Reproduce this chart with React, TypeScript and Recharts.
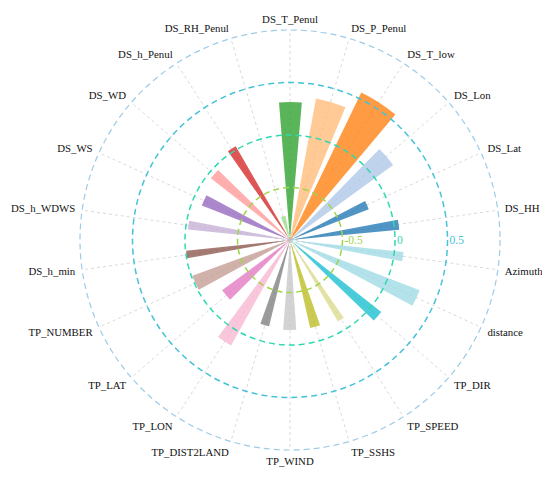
import React from 'react';
import {
  RadialBarChart,
  RadialBar,
  PolarAngleAxis,
  PolarRadiusAxis,
  PolarGrid,
  Sector,
  Cell,
} from 'recharts';

// categories listed counter-clockwise, starting just above 3 o'clock
const categories = [
  'DS_HH', 'DS_Lat', 'DS_Lon', 'DS_T_low', 'DS_P_Penul', 'DS_T_Penul',
  'DS_RH_Penul', 'DS_h_Penul', 'DS_WD', 'DS_WS', 'DS_h_WDWS', 'DS_h_min',
  'TP_NUMBER', 'TP_LAT', 'TP_LON', 'TP_DIST2LAND', 'TP_WIND', 'TP_SSHS',
  'TP_SPEED', 'TP_DIR', 'distance', 'Azimuth',
];

const values = [
  0.045, -0.195, 0.214, 0.56, 0.37, 0.314,
  -0.766, 0.031, -0.044, -0.098, -0.023, -0.005,
  -0.01, -0.195, 0.15, -0.155, -0.143, -0.139,
  -0.1, 0.107, 0.324, 0.087,
];

// second quantity encoded by the angular width of each wedge (share of its category)
const weights = [
  0.32, 0.37, 0.58, 0.87, 0.75, 0.58,
  0.7, 0.3, 0.39, 0.42, 0.3, 0.26,
  0.52, 0.51, 0.45, 0.36, 0.51, 0.4,
  0.26, 0.34, 0.43, 0.29,
];

const colors = [
  '#1f77b4', '#1f77b4', '#aec7e8', '#ff7f0e', '#ffbb78', '#2ca02c',
  '#98df8a', '#d62728', '#ff9896', '#9467bd', '#c5b0d5', '#8c564b',
  '#c49c94', '#e377c2', '#f7b6d2', '#7f7f7f', '#c7c7c7', '#bcbd22',
  '#dbdb8d', '#17becf', '#9edae5', '#9edae5',
];

const radiusTicks = [-1, -0.5, 0, 0.5, 1];
const radiusTickColors: Record<string, string> = {
  '-0.5': '#9fd54a',
  '0': '#2fd8b0',
  '0.5': '#45c2d8',
  '1': '#9ccbe8',
};

const data = categories.map((name, i) => ({ name, value: values[i], weight: weights[i] }));

const BAND = 360 / categories.length;
const gridAngles = categories.map((_, i) => (i + 0.5) * BAND);

const CX = 282;
const CY = 232;
const OUTER = 210;
const LABEL_R = 217;
const FONT = '"Liberation Serif", "Times New Roman", serif';

const BarShape = (props: any) => {
  const { cx, cy, startAngle, endAngle, outerRadius, payload, fill } = props;
  const mid = (startAngle + endAngle) / 2;
  const half = (payload.weight * BAND) / 2;
  return (
    <Sector
      cx={cx}
      cy={cy}
      innerRadius={0}
      outerRadius={outerRadius}
      startAngle={mid - half}
      endAngle={mid + half}
      fill={fill}
      fillOpacity={0.78}
      stroke="none"
    />
  );
};

const AngleTick = (props: any) => {
  const { payload } = props;
  const deg = payload.coordinate + BAND / 2;
  const a = (deg * Math.PI) / 180;
  const c = Math.cos(a);
  const s = Math.sin(a);
  const x = CX + LABEL_R * c;
  const y = CY - LABEL_R * s;
  const fs = 10.8;
  const anchor = c > 0.05 ? 'start' : c < -0.05 ? 'end' : 'middle';
  const baseline = y + 0.36 * fs * (1 - s);
  return (
    <text x={x} y={baseline} textAnchor={anchor} fontSize={fs} fontFamily={FONT} fill="#111">
      {payload.value}
    </text>
  );
};

const RadiusTick = (props: any) => {
  const { x, payload } = props;
  const v = payload.value;
  const r = x - CX;
  if (v === -1 || r <= 0.5) return <g />;
  const color = radiusTickColors[String(v)];
  const isOuter = v === 1;
  return (
    <g>
      <circle
        cx={CX}
        cy={CY}
        r={r}
        fill="none"
        stroke={color}
        strokeWidth={isOuter ? 1.2 : 1.5}
        strokeDasharray="6 4"
      />
      {!isOuter && (
        <text
          x={CX + r + 2}
          y={CY + 4}
          textAnchor="start"
          fontSize={11.5}
          fontFamily={FONT}
          fill={color}
        >
          {String(v)}
        </text>
      )}
    </g>
  );
};

export default function App() {
  return (
    <div style={{ width: 534, height: 464, background: '#fff' }}>
      <style>{'.recharts-surface{overflow:visible}'}</style>
      <RadialBarChart
        width={534}
        height={464}
        cx={CX}
        cy={CY}
        innerRadius={0}
        outerRadius={OUTER}
        startAngle={BAND}
        endAngle={360 + BAND}
        layout="centric"
        data={data}
        barCategoryGap="0%"
        margin={{ top: 0, right: 0, bottom: 0, left: 0 }}
      >
        <PolarGrid
          gridType="circle"
          polarRadius={[0]}
          polarAngles={gridAngles}
          stroke="#cfcfcf"
          strokeDasharray="3 3"
          strokeWidth={0.8}
        />
        <PolarAngleAxis
          type="category"
          dataKey="name"
          axisLine={false}
          tickLine={false}
          tick={<AngleTick />}
        />
        <PolarRadiusAxis
          type="number"
          domain={[-1, 1]}
          ticks={radiusTicks}
          angle={0}
          axisLine={false}
          tickLine={false}
          tick={<RadiusTick />}
        />
        <RadialBar dataKey="value" isAnimationActive={false} shape={<BarShape />}>
          {data.map((d, i) => (
            <Cell key={d.name} fill={colors[i]} />
          ))}
        </RadialBar>
      </RadialBarChart>
    </div>
  );
}
